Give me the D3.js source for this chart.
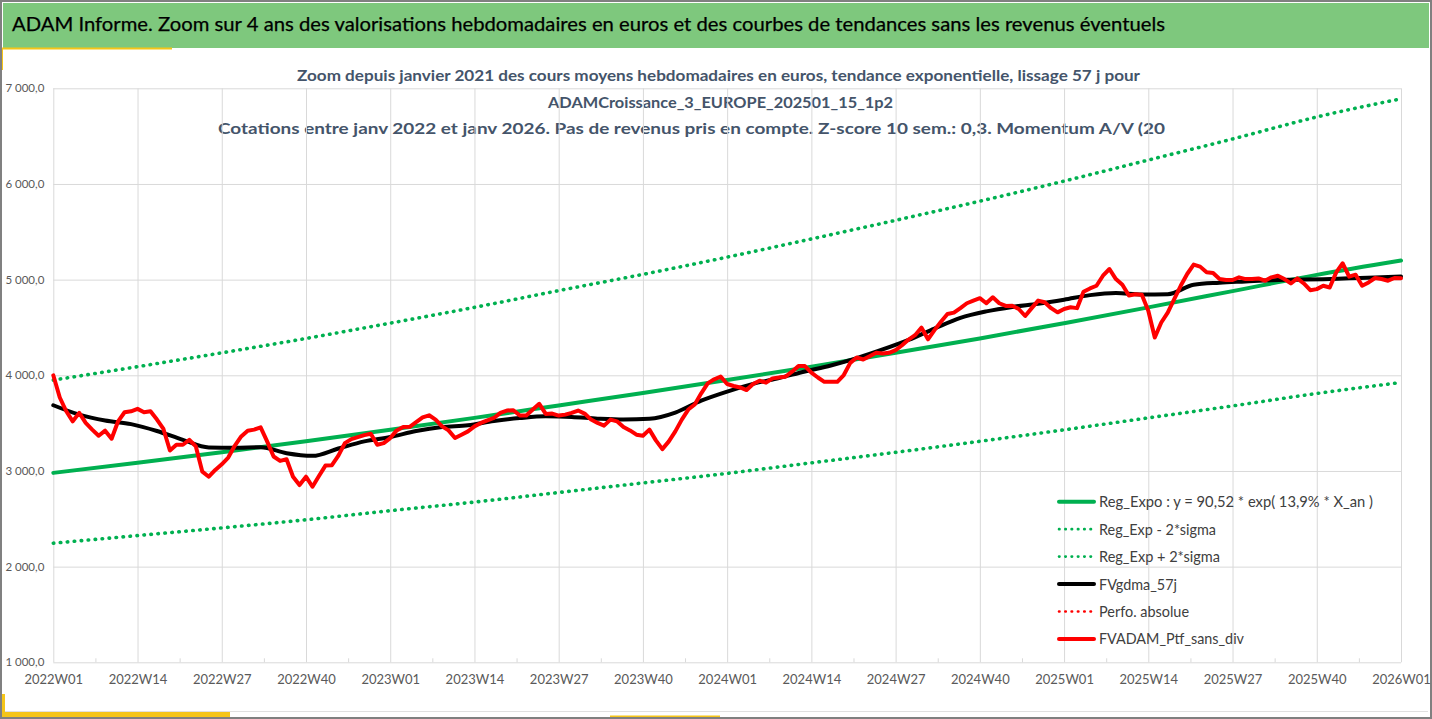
<!DOCTYPE html>
<html>
<head>
<meta charset="utf-8">
<script src="https://cdn.jsdelivr.net/npm/d3@7"></script>
<style>
  html, body { margin: 0; padding: 0; background: #ffffff; }
  svg { display: block; font-family: Lato, "Open Sans", sans-serif; }
</style>
</head>
<body>
<svg id="chart" width="1432" height="719"></svg>
<script>
// ---------- DATA ----------
const headerTitle = "ADAM Informe. Zoom sur 4 ans des valorisations hebdomadaires en euros et des courbes de tendances sans les revenus éventuels";
const chartTitleLines = [
  "Zoom depuis janvier 2021 des cours moyens hebdomadaires  en euros, tendance exponentielle, lissage 57 j pour",
  "ADAMCroissance_3_EUROPE_202501_15_1p2",
  "Cotations entre janv 2022 et janv 2026. Pas de revenus pris en compte. Z-score 10 sem.: 0,3. Momentum  A/V (20"
];
const weekLabels = ["2022W01","2022W14","2022W27","2022W40","2023W01","2023W14","2023W27","2023W40",
  "2024W01","2024W14","2024W27","2024W40","2025W01","2025W14","2025W27","2025W40","2026W01"];
const labelWeeks = [0,13,26,39,52,65,78,91,104,117,130,143,156,169,182,195,208];
const yTicks = [1000,2000,3000,4000,5000,6000,7000];

// Exponential regression and ±2 sigma bands, read at each labelled week
const regExpo   = [2980,3085,3195,3310,3430,3555,3685,3815,3950,4090,4235,4385,4545,4710,4880,5050,5200];
const regMinus2 = [2245,2325,2405,2490,2585,2675,2775,2875,2975,3085,3195,3310,3430,3555,3680,3810,3925];
const regPlus2  = [3950,4090,4235,4385,4545,4710,4885,5055,5235,5425,5620,5820,6030,6250,6470,6700,6890];

// Smoothed 57-day average (read every 4 weeks)
const smaWeeks = [0,4,8,12,16,20,24,28,32,36,40,44,48,52,56,60,64,68,72,76,80,84,88,92,96,100,104,108,112,116,
  120,124,128,132,136,140,144,148,152,156,160,164,168,172,176,180,184,188,192,196,200,204,208];
const smaValues = [3687,3589,3527,3490,3418,3325,3245,3242,3248,3185,3158,3235,3309,3355,3418,3460,3478,3523,3553,3571,
  3565,3547,3537,3545,3610,3735,3830,3910,3972,4040,4103,4180,4270,4370,4488,4600,4668,4715,4748,4790,
  4838,4860,4845,4848,4947,4968,4981,4994,4999,5004,5014,5022,5034];

// Weekly portfolio valuation (week 0 = 2022W01)
const ptfValues = [
  4000,3768,3624,3519,3607,3502,3432,3368,3421,3337,3519,3614,3624,3649,3614,3624,3537,3439,3214,3274,
  3274,3326,3256,2993,2940,3011,3070,3140,3263,3361,3421,3432,3456,3309,3151,3105,3123,2940,2853,2940,
  2835,2947,3056,3060,3160,3291,3333,3354,3375,3389,3274,3291,3344,3424,3459,3462,3510,3560,3582,3537,
  3466,3424,3344,3379,3414,3466,3502,3529,3554,3607,3632,3635,3579,3579,3642,3702,3596,3600,3579,3589,
  3607,3632,3600,3537,3502,3474,3537,3519,3459,3424,3379,3368,3432,3320,3228,3309,3414,3537,3642,3695,
  3812,3916,3958,3986,3909,3888,3873,3846,3909,3944,3923,3968,3977,3985,4038,4096,4096,4027,3977,3932,
  3932,3932,4003,4130,4186,4165,4200,4235,4228,4235,4263,4314,4373,4419,4498,4376,4472,4560,4641,4655,
  4702,4753,4781,4806,4753,4816,4753,4725,4728,4693,4620,4702,4781,4763,4702,4658,4693,4711,4702,4873,
  4908,4936,5041,5111,5006,4946,4835,4848,4841,4675,4395,4552,4656,4797,4936,5059,5157,5136,5076,5069,
  5006,4996,4996,5024,5006,5006,5013,4989,5024,5041,5006,4960,5013,4960,4890,4901,4936,4918,5076,5171,
  5031,5052,4936,4971,5017,5006,4989,5017,5015
];
const perfoAbsolue = []; // present only in the legend

const legendItems = [
  {label: "Reg_Expo : y = 90,52 * exp( 13,9% *  X_an )", color: "#00B050", dotted: false, len: 274},
  {label: "Reg_Exp - 2*sigma", color: "#00B050", dotted: true, len: 117},
  {label: "Reg_Exp + 2*sigma", color: "#00B050", dotted: true, len: 121},
  {label: "FVgdma_57j", color: "#000000", dotted: false, len: 78},
  {label: "Perfo. absolue", color: "#FF0000", dotted: true, len: 90},
  {label: "FVADAM_Ptf_sans_div", color: "#FF0000", dotted: false, len: 145}
];

// ---------- DRAWING ----------
const svg = d3.select("#chart");
const W = 1432, H = 719;

svg.append("rect").attr("x",0).attr("y",0).attr("width",W).attr("height",H).attr("fill","#ffffff");

// header bar
svg.append("rect").attr("x",3).attr("y",3).attr("width",1426).attr("height",45).attr("fill","#7EC87D");
svg.append("text").attr("x",12).attr("y",31).attr("font-size",19).attr("fill","#000")
  .attr("stroke","#000").attr("stroke-width",0.25)
  .attr("textLength",1153).attr("lengthAdjust","spacingAndGlyphs").text(headerTitle);

// decorative frame
svg.append("line").attr("x1",0).attr("x2",172).attr("y1",48.5).attr("y2",48.5).attr("stroke","#F5C518").attr("stroke-width",2);
svg.append("line").attr("x1",1.5).attr("x2",1.5).attr("y1",48).attr("y2",70).attr("stroke","#F5C518").attr("stroke-width",3);
svg.append("line").attr("x1",5).attr("x2",1428).attr("y1",711.5).attr("y2",711.5).attr("stroke","#E0E0E0").attr("stroke-width",1);
svg.append("line").attr("x1",0).attr("x2",230).attr("y1",714.5).attr("y2",714.5).attr("stroke","#F5C518").attr("stroke-width",5);
svg.append("line").attr("x1",2.5).attr("x2",2.5).attr("y1",694).attr("y2",717).attr("stroke","#F5C518").attr("stroke-width",5);
svg.append("line").attr("x1",610).attr("x2",720).attr("y1",717).attr("y2",717).attr("stroke","#F5C518").attr("stroke-width",3);
svg.append("rect").attr("x",1).attr("y",1).attr("width",W-2).attr("height",H-2)
  .attr("fill","none").attr("stroke","#808080").attr("stroke-width",2);

// chart titles
const titleX = [718.5, 720.5, 218];
const titleLen = [843, 345, 947];
const titleY = [81, 107.5, 134];
chartTitleLines.forEach((t,i) => {
  svg.append("text").attr("x",titleX[i]).attr("y",titleY[i])
    .attr("text-anchor", i===2 ? "start" : "middle")
    .attr("font-size",15).attr("font-weight","bold").attr("fill","#44546A")
    .attr("textLength",titleLen[i]).attr("lengthAdjust","spacingAndGlyphs").text(t);
});

// scales
const x = d3.scaleLinear().domain([0,208]).range([53.3,1401]);
const y = d3.scaleLinear().domain([1000,7000]).range([662.3,88.3]);

// gridlines
const gridY = svg.append("g").attr("transform",`translate(${x(0)},0)`)
  .call(d3.axisLeft(y).tickValues(yTicks).tickSize(-(x(208)-x(0))).tickFormat(""));
gridY.select(".domain").remove();
gridY.selectAll("line").attr("stroke","#D9D9D9").attr("stroke-width",1);

const gridX = svg.append("g").attr("transform",`translate(0,${y(1000)})`)
  .call(d3.axisBottom(x).tickValues(labelWeeks).tickSize(-(y(1000)-y(7000))).tickFormat(""));
gridX.select(".domain").remove();
gridX.selectAll("line").attr("stroke","#D9D9D9").attr("stroke-width",1);

// minor ticks
const minorWeeks = labelWeeks.slice(0,-1).map(w => w + 6.5);
const minor = svg.append("g").attr("transform",`translate(0,${y(1000)})`)
  .call(d3.axisBottom(x).tickValues(minorWeeks).tickSize(-4).tickFormat(""));
minor.select(".domain").remove();
minor.selectAll("line").attr("stroke","#D9D9D9");

// x labels
const xAxis = svg.append("g").attr("transform",`translate(0,${y(1000)})`)
  .call(d3.axisBottom(x).tickValues(labelWeeks).tickSize(0).tickPadding(12)
    .tickFormat((d,i) => weekLabels[i]));
xAxis.select(".domain").remove();
xAxis.selectAll("text").attr("font-size",13).attr("fill","#595959").attr("font-family","Lato, sans-serif");

// y labels
const fr = d3.formatLocale({decimal: ",", thousands: "\u00a0", grouping: [3], currency: ["","€"]});
const yAxis = svg.append("g").attr("transform",`translate(${x(0)},0)`)
  .call(d3.axisLeft(y).tickValues(yTicks).tickSize(0).tickPadding(9).tickFormat(fr.format(",.1f")));
yAxis.select(".domain").remove();
yAxis.selectAll("text").attr("font-size",11.5).attr("fill","#595959").attr("font-family","Lato, sans-serif");

// series
const curveSmooth = d3.curveMonotoneX;
const trendLine = d3.line().x((d,i) => x(labelWeeks[i])).y(d => y(d)).curve(curveSmooth);
const dotted = {dash: "0.5 6.5", width: 3.6};

svg.append("path").datum(regMinus2).attr("d",trendLine).attr("fill","none")
  .attr("stroke","#00B050").attr("stroke-width",dotted.width).attr("stroke-linecap","round").attr("stroke-dasharray",dotted.dash);
svg.append("path").datum(regPlus2).attr("d",trendLine).attr("fill","none")
  .attr("stroke","#00B050").attr("stroke-width",dotted.width).attr("stroke-linecap","round").attr("stroke-dasharray",dotted.dash);
svg.append("path").datum(regExpo).attr("d",trendLine).attr("fill","none")
  .attr("stroke","#00B050").attr("stroke-width",4).attr("stroke-linecap","round");

const smaLine = d3.line().x((d,i) => x(smaWeeks[i])).y(d => y(d)).curve(curveSmooth);
svg.append("path").datum(smaValues).attr("d",smaLine).attr("fill","none")
  .attr("stroke","#000000").attr("stroke-width",4).attr("stroke-linecap","round");

const perfoLine = d3.line().x((d,i) => x(i)).y(d => y(d));
svg.append("path").datum(perfoAbsolue).attr("d",perfoLine).attr("fill","none")
  .attr("stroke","#FF0000").attr("stroke-width",dotted.width).attr("stroke-dasharray",dotted.dash);

const ptfLine = d3.line().x((d,i) => x(i)).y(d => y(d)).curve(d3.curveLinear);
svg.append("path").datum(ptfValues).attr("d",ptfLine).attr("fill","none")
  .attr("stroke","#FF0000").attr("stroke-width",4).attr("stroke-linejoin","round").attr("stroke-linecap","round");

// legend
const legendX = 1059, legendY0 = 501.7, legendStep = 27.45;
const lg = svg.append("g");
legendItems.forEach((it,i) => {
  const yy = legendY0 + i*legendStep;
  const l = lg.append("line").attr("x1",legendX).attr("x2",legendX+35).attr("y1",yy).attr("y2",yy)
    .attr("stroke",it.color).attr("stroke-linecap","round");
  if (it.dotted) l.attr("stroke-width",2.6).attr("stroke-dasharray","0.5 5.8");
  else l.attr("stroke-width",4);
  lg.append("text").attr("x",legendX+40).attr("y",yy+5.5).attr("font-size",15).attr("fill","#404040")
    .attr("textLength",it.len).attr("lengthAdjust","spacingAndGlyphs").text(it.label);
});
</script>
</body>
</html>
